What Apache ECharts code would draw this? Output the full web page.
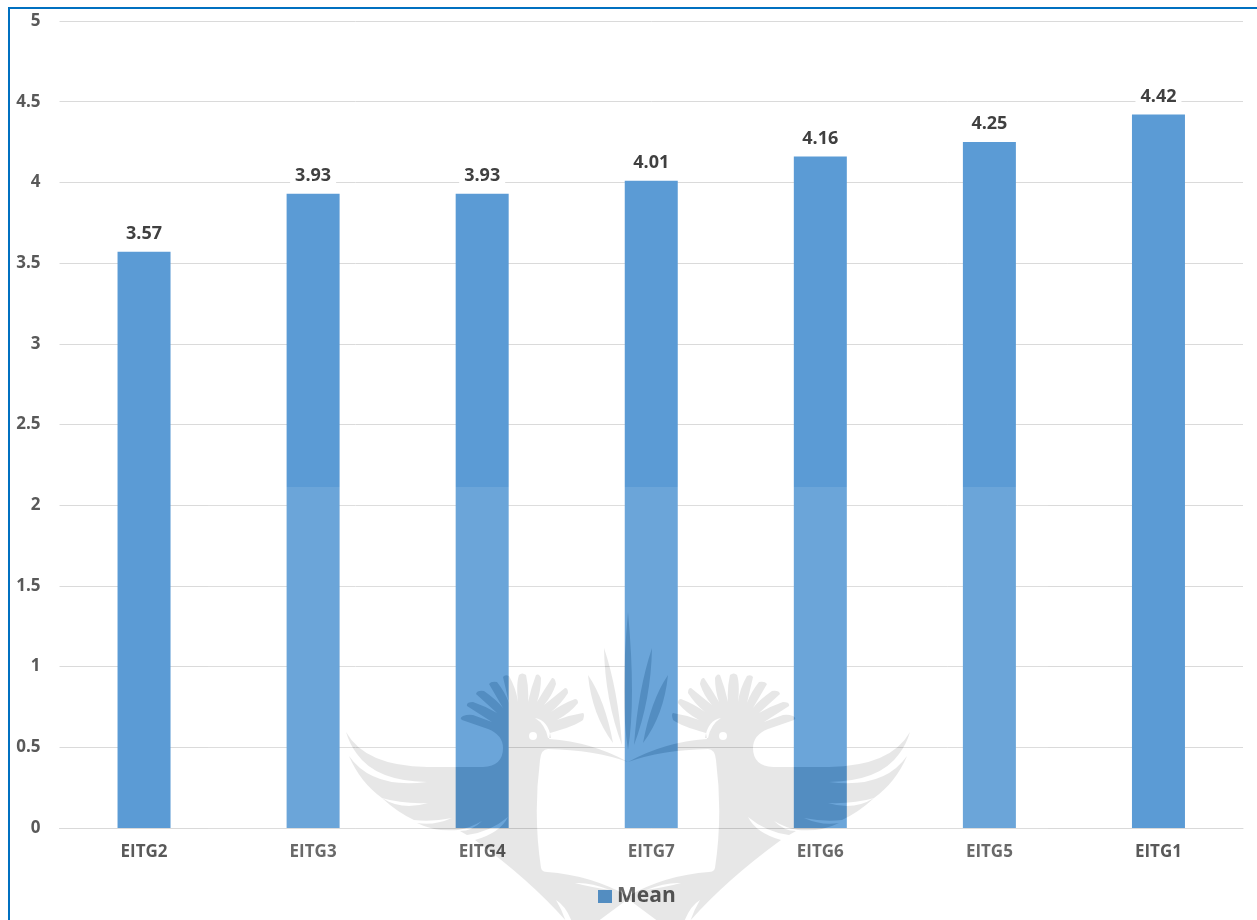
<!DOCTYPE html>
<html>
<head>
<meta charset="utf-8">
<title>Mean by item</title>
<style>html,body{margin:0;padding:0;background:#fff;}#chart{width:1257px;height:920px;}</style>
<script src="https://cdn.jsdelivr.net/npm/echarts@6/dist/echarts.min.js"></script>
</head>
<body>
<div id="chart"></div>
<script>
const categories = ['EITG2', 'EITG3', 'EITG4', 'EITG7', 'EITG6', 'EITG5', 'EITG1'];
const meanValues = [3.57, 3.93, 3.93, 4.01, 4.16, 4.25, 4.42];
const seriesName = 'Mean';

// Left half of the emblem: body, eye, head crescent, tail slits, centre leaves.
const emblemLeft = [
  'M628,762 Q595,750 548,749 Q541,749 540,760 Q533,815 541,868 Q542,872 547,872 Q590,875 628,896',
  'L628,899 L597,922 L567,922 Q530,880 475,840',
  'Q500,833 508,817 Q490,832 467,835 L460,831 Q472,831 482,821 Q470,828 458,830',
  'Q435,832 417,823 Q434,826 452,818 Q432,822 414,820 Q397,812 382,798',
  'Q402,811 428,803 Q402,804 382,798 Q360,782 349,756',
  'Q372,789 427,782 Q376,781 357,754 Q350,745 346,732',
  'Q365,766 427,767 L483,767 Q503,766 503,748 Q503,735 488,729 L462,720 Q459,718 463,716 Q468,714 473,715 L492,722',
  'L467,706 Q466,702 473,702 Q485,706 497,713',
  'L476,694 Q477,690 484,691 Q497,700 503,708',
  'L489,684 Q491,681 497,682 Q505,692 509,703',
  'L503,677 Q505,674 509,676 Q516,688 518,702',
  'Q516,684 519,675 Q522,672 526,675 Q529,688 528,702',
  'Q531,688 536,675 Q539,673 541,678 Q541,690 537,702',
  'Q544,690 552,678 Q555,677 556,684 Q552,696 544,705',
  'Q554,697 565,688 Q568,688 568,693 Q561,704 551,712',
  'Q562,704 575,699 Q578,699 578,703 Q570,713 557,720',
  'Q570,715 583,713 Q585,714 583,720 Q575,726 550,733',
  'L549,739 Q592,742 628,762 Z',
  'M537,736 Q537,732 533,732 Q529,732 529,736 Q529,740 533,740 Q537,740 537,736 Z',
  'M551,738 Q548,720 535,718 Q545,724 548,738 Z',
  'M610,890 Q590,882 575,883 Q590,887 610,890 Z',
  'M572,922 Q566,906 556,900 Q562,910 566,922 Z',
  'M588,675 Q605,700 613,743 Q592,715 588,675 Z',
  'M604,648 Q618,690 622,745 Q605,700 604,648 Z',
  'M628,612 L628,750 Q620,700 628,612 Z'
].join(' ');
const emblemPath = emblemLeft + ' ' +
  emblemLeft.replace(/(\d+),(\d+)/g, (m, x, y) => (1256 - Number(x)) + ',' + y);

echarts.graphic.registerShape('emblem', echarts.graphic.extendPath(emblemPath, {}));

const chart = echarts.init(document.getElementById('chart'), null, { renderer: 'canvas' });
chart.setOption({
  animation: false,
  backgroundColor: '#ffffff',
  textStyle: { fontFamily: '"Open Sans", sans-serif' },
  grid: { left: 59.5, right: 14, top: 21, bottom: 92, containLabel: false },
  legend: {
    left: 593, top: 881, icon: 'rect', itemWidth: 14, itemHeight: 13, itemGap: 5,
    textStyle: { fontFamily: '"Open Sans", sans-serif', fontSize: 21, fontWeight: 700, color: '#595959' }
  },
  xAxis: {
    type: 'category',
    data: categories,
    axisTick: { show: false },
    axisLine: { lineStyle: { color: '#d9d9d9', width: 1 } },
    axisLabel: { margin: 16, fontSize: 17, fontWeight: 700, color: '#595959' }
  },
  yAxis: {
    type: 'value',
    min: 0,
    max: 5,
    interval: 0.5,
    axisLine: { show: false },
    axisTick: { show: false },
    splitLine: { lineStyle: { color: '#dadada', width: 1 } },
    axisLabel: { margin: 19, fontSize: 17, fontWeight: 700, color: '#595959' }
  },
  series: [{
    name: seriesName,
    type: 'bar',
    data: meanValues,
    barWidth: 53,
    itemStyle: { color: '#5b9bd5' },
    label: {
      show: true,
      position: 'top',
      distance: 9,
      fontSize: 18,
      fontWeight: 700,
      color: '#404040',
      backgroundColor: '#ffffff',
      padding: [0, 5],
      formatter: p => p.value.toFixed(2)
    }
  }],
  graphic: [
    { type: 'rect', z: 100, silent: true, shape: { x: 208, y: 487, width: 840, height: 433 },
      style: { fill: 'rgba(255,255,255,0.1)' } },
    { type: 'emblem', z: 101, silent: true,
      style: { fill: 'rgb(24,24,24)', blend: 'difference' } },
    { type: 'rect', z: 102, silent: true, shape: { x: 9, y: 8, width: 1300, height: 1000 },
      style: { fill: 'none', stroke: '#0070c0', lineWidth: 2 } }
  ]
});
</script>
</body>
</html>
